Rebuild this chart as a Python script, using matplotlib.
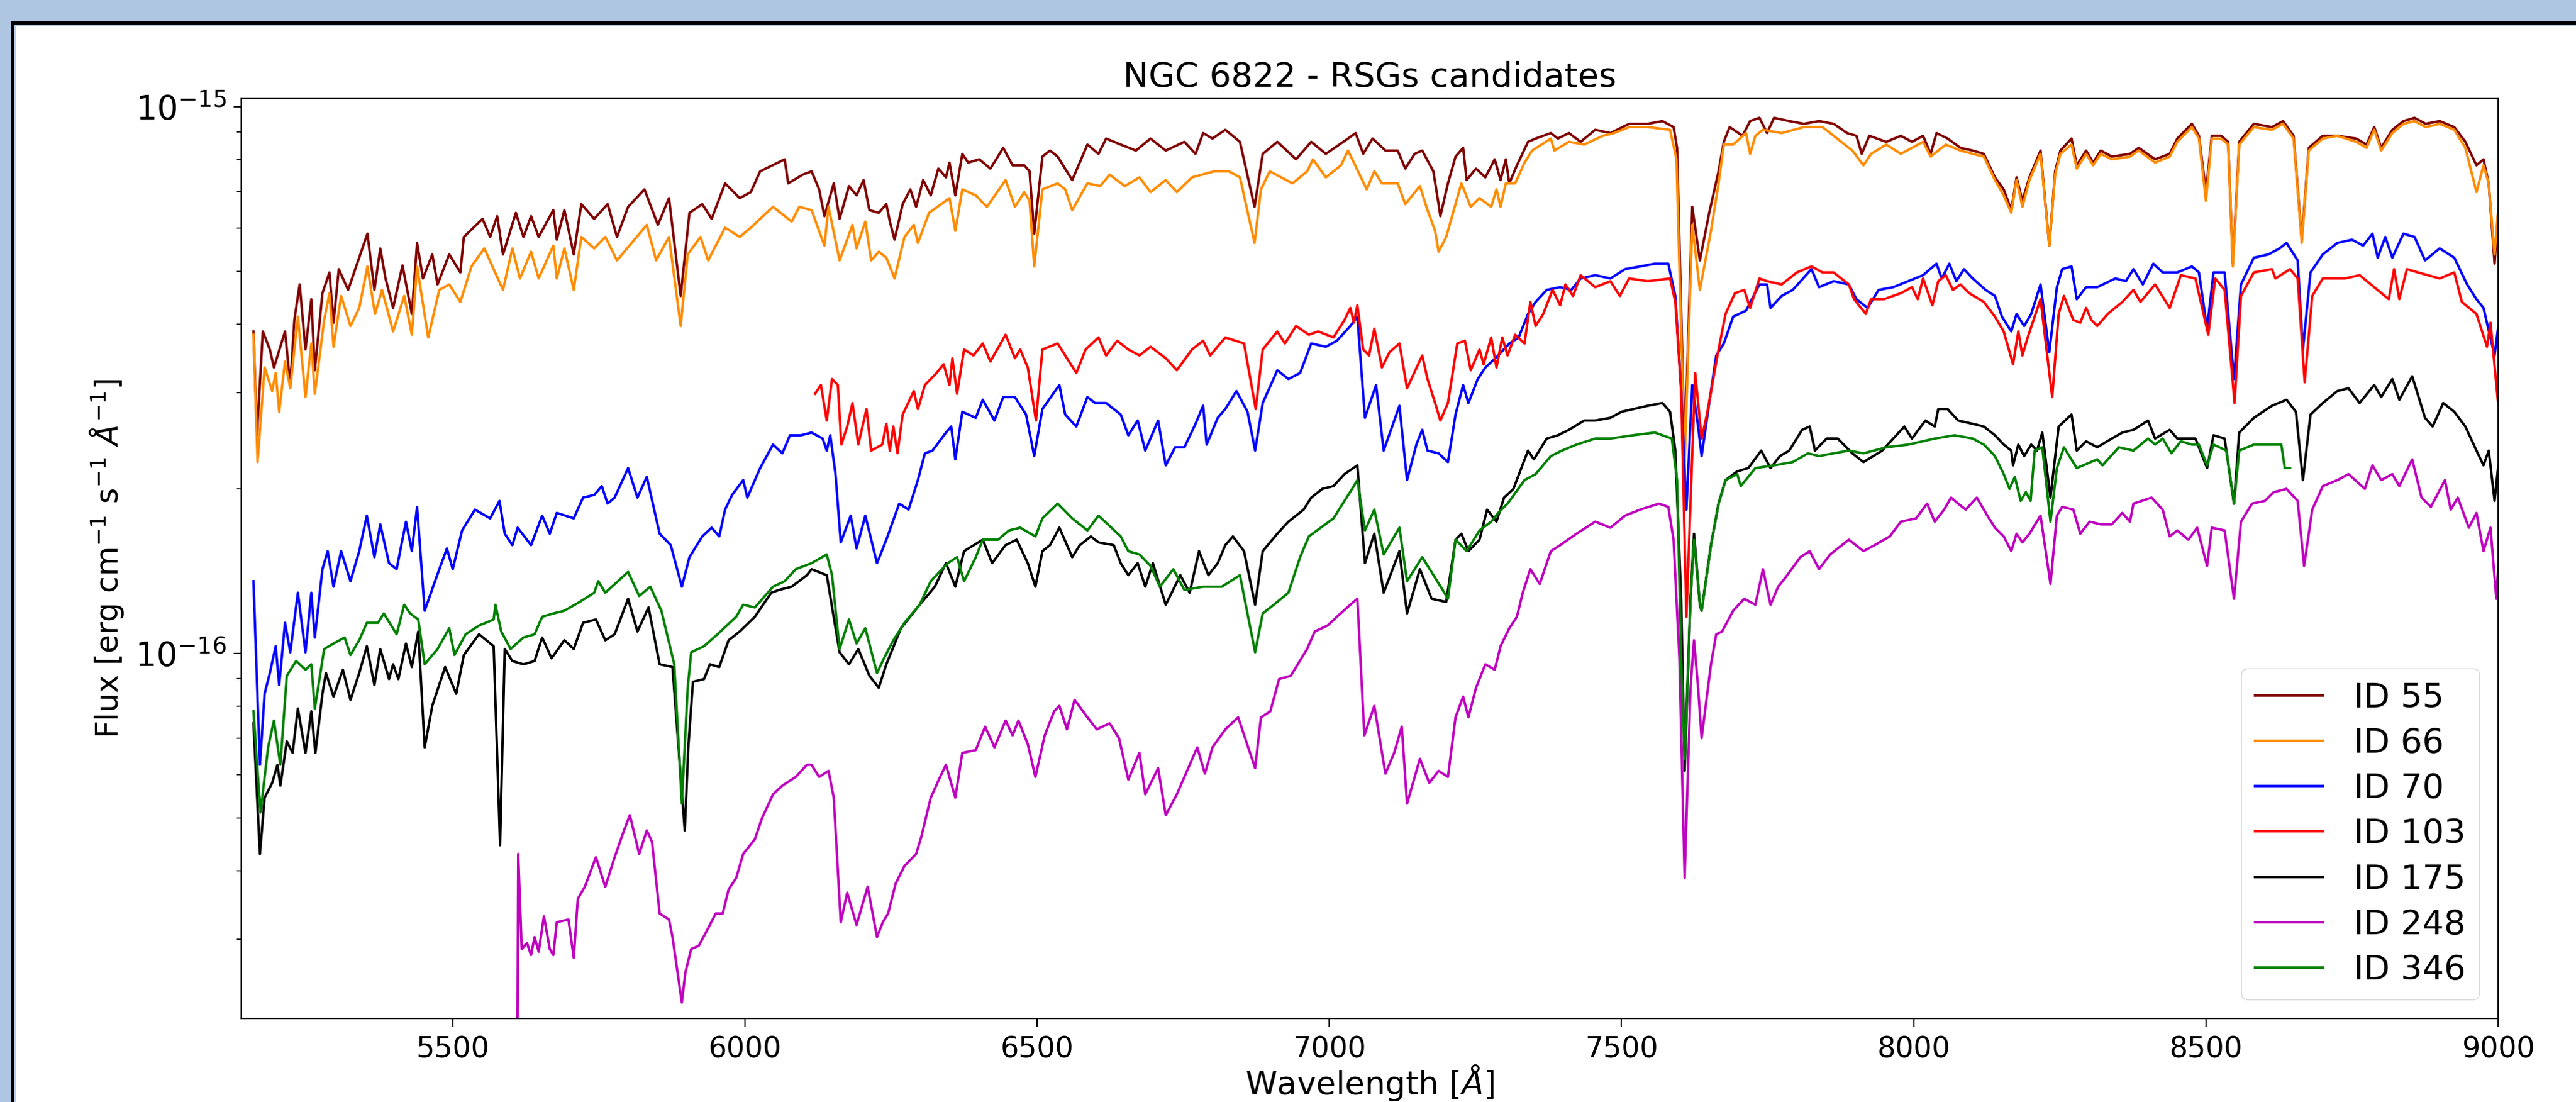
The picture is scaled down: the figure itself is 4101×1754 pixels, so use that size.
import numpy as np
import matplotlib.pyplot as plt
from matplotlib.patches import Rectangle
from matplotlib.ticker import NullFormatter, FixedLocator, LogLocator

# spectra: (wavelength [A], log10 flux [erg cm-1 s-1 A-1])
id55 = [(5159,-15.411),(5165,-15.601),(5175,-15.411),(5187,-15.444),(5194,-15.477),(5213,-15.411),
        (5222,-15.509),(5229,-15.390),(5238,-15.325),(5248,-15.444),(5258,-15.352),(5264,-15.482),
        (5277,-15.341),(5289,-15.303),(5296,-15.395),(5305,-15.297),(5321,-15.335),(5354,-15.232),
        (5366,-15.335),(5376,-15.259),(5385,-15.314),(5398,-15.368),(5414,-15.290),(5430,-15.379),
        (5439,-15.249),(5449,-15.314),(5465,-15.270),(5474,-15.325),(5494,-15.270),(5513,-15.303),
        (5519,-15.238),(5551,-15.205),(5564,-15.238),(5576,-15.200),(5586,-15.270),(5608,-15.194),
        (5621,-15.238),(5634,-15.200),(5647,-15.238),(5672,-15.189),(5678,-15.243),(5691,-15.189),
        (5707,-15.270),(5720,-15.178),(5742,-15.205),(5765,-15.178),(5781,-15.238),(5800,-15.183),
        (5828,-15.151),(5851,-15.216),(5870,-15.167),(5890,-15.346),(5905,-15.194),(5927,-15.178),
        (5943,-15.205),(5966,-15.140),(5991,-15.167),(6010,-15.156),(6026,-15.118),(6068,-15.096),
        (6074,-15.140),(6099,-15.124),(6114,-15.118),(6127,-15.151),(6136,-15.200),(6152,-15.140),
        (6162,-15.205),(6178,-15.145),(6191,-15.162),(6203,-15.134),(6213,-15.189),(6229,-15.194),
        (6242,-15.178),(6248,-15.210),(6256,-15.243),(6270,-15.178),(6283,-15.151),(6293,-15.183),
        (6305,-15.134),(6318,-15.162),(6331,-15.113),(6344,-15.129),(6350,-15.102),(6360,-15.162),
        (6372,-15.086),(6382,-15.102),(6401,-15.096),(6420,-15.113),(6442,-15.075),(6458,-15.107),
        (6478,-15.107),(6487,-15.118),(6495,-15.232),(6509,-15.091),(6522,-15.080),(6535,-15.091),
        (6560,-15.134),(6586,-15.069),(6605,-15.086),(6618,-15.058),(6643,-15.069),(6669,-15.080),
        (6694,-15.058),(6720,-15.080),(6752,-15.064),(6771,-15.086),(6784,-15.048),(6800,-15.058),
        (6822,-15.042),(6847,-15.064),(6872,-15.183),(6886,-15.086),(6911,-15.064),(6943,-15.096),
        (6969,-15.064),(6994,-15.086),(7032,-15.058),(7045,-15.048),(7058,-15.086),(7074,-15.058),
        (7096,-15.080),(7117,-15.080),(7130,-15.113),(7146,-15.086),(7159,-15.080),(7178,-15.118),
        (7187,-15.178),(7190,-15.200),(7203,-15.140),(7216,-15.091),(7229,-15.075),(7235,-15.134),
        (7251,-15.113),(7267,-15.129),(7283,-15.096),(7293,-15.134),(7302,-15.096),(7308,-15.140),
        (7321,-15.107),(7340,-15.064),(7353,-15.058),(7379,-15.048),(7391,-15.058),(7410,-15.048),
        (7430,-15.064),(7455,-15.042),(7481,-15.048),(7513,-15.031),(7545,-15.031),(7570,-15.026),
        (7589,-15.037),(7595,-15.075),(7608,-15.629),(7621,-15.183),(7634,-15.281),(7650,-15.194),
        (7666,-15.118),(7675,-15.064),(7685,-15.037),(7707,-15.053),(7720,-15.026),(7736,-15.020),
        (7749,-15.048),(7761,-15.020),(7787,-15.026),(7812,-15.031),(7838,-15.026),(7863,-15.031),
        (7886,-15.048),(7902,-15.053),(7911,-15.086),(7924,-15.053),(7953,-15.064),(7978,-15.053),
        (7997,-15.064),(8016,-15.053),(8029,-15.086),(8039,-15.048),(8058,-15.058),(8080,-15.075),
        (8101,-15.080),(8120,-15.086),(8139,-15.129),(8154,-15.151),(8167,-15.189),(8176,-15.129),
        (8186,-15.172),(8198,-15.129),(8217,-15.080),(8232,-15.254),(8242,-15.118),(8251,-15.080),
        (8270,-15.058),(8279,-15.107),(8295,-15.080),(8307,-15.102),(8320,-15.080),(8339,-15.091),
        (8370,-15.086),(8385,-15.075),(8413,-15.096),(8438,-15.086),(8451,-15.058),(8476,-15.031),
        (8488,-15.053),(8500,-15.156),(8510,-15.053),(8526,-15.053),(8538,-15.064),(8546,-15.287),
        (8557,-15.064),(8582,-15.031),(8613,-15.037),(8632,-15.026),(8650,-15.053),(8664,-15.243),
        (8676,-15.075),(8700,-15.053),(8725,-15.053),(8757,-15.058),(8775,-15.069),(8788,-15.037),
        (8800,-15.075),(8819,-15.042),(8838,-15.026),(8857,-15.020),(8876,-15.031),(8900,-15.026),
        (8925,-15.037),(8944,-15.064),(8963,-15.107),(8975,-15.096),(8984,-15.140),(8994,-15.287),
        (9003,-15.151)]

id66 = [(5159,-15.417),(5166,-15.650),(5178,-15.477),(5191,-15.520),(5197,-15.487),(5203,-15.558),
        (5213,-15.466),(5222,-15.515),(5235,-15.384),(5248,-15.531),(5258,-15.433),(5264,-15.525),
        (5280,-15.390),(5289,-15.341),(5296,-15.439),(5309,-15.346),(5325,-15.401),(5340,-15.368),
        (5354,-15.292),(5367,-15.379),(5379,-15.335),(5398,-15.411),(5417,-15.346),(5430,-15.417),
        (5439,-15.292),(5458,-15.422),(5477,-15.335),(5494,-15.325),(5513,-15.357),(5532,-15.292),
        (5554,-15.259),(5586,-15.335),(5602,-15.259),(5615,-15.314),(5634,-15.265),(5647,-15.314),
        (5672,-15.254),(5678,-15.314),(5691,-15.259),(5707,-15.335),(5720,-15.238),(5742,-15.259),
        (5761,-15.238),(5781,-15.281),(5832,-15.216),(5848,-15.281),(5870,-15.238),(5890,-15.401),
        (5902,-15.270),(5924,-15.238),(5937,-15.281),(5966,-15.221),(5991,-15.238),(6010,-15.221),
        (6048,-15.183),(6080,-15.210),(6093,-15.183),(6114,-15.189),(6136,-15.254),(6143,-15.183),
        (6162,-15.281),(6184,-15.216),(6191,-15.259),(6206,-15.210),(6216,-15.281),(6229,-15.265),
        (6242,-15.276),(6256,-15.314),(6273,-15.238),(6289,-15.216),(6296,-15.249),(6315,-15.194),
        (6350,-15.167),(6360,-15.227),(6372,-15.151),(6395,-15.162),(6414,-15.183),(6446,-15.134),
        (6462,-15.183),(6478,-15.156),(6487,-15.172),(6495,-15.292),(6509,-15.151),(6535,-15.140),
        (6548,-15.151),(6560,-15.189),(6586,-15.140),(6608,-15.145),(6624,-15.124),(6650,-15.145),
        (6675,-15.129),(6694,-15.156),(6720,-15.134),(6739,-15.156),(6765,-15.129),(6803,-15.118),
        (6828,-15.118),(6847,-15.129),(6872,-15.249),(6883,-15.151),(6898,-15.118),(6937,-15.140),
        (6962,-15.118),(6972,-15.096),(6994,-15.129),(7020,-15.107),(7032,-15.080),(7064,-15.151),
        (7077,-15.118),(7090,-15.140),(7117,-15.140),(7130,-15.178),(7155,-15.145),(7168,-15.189),
        (7181,-15.227),(7187,-15.265),(7200,-15.238),(7226,-15.140),(7242,-15.183),(7257,-15.167),
        (7277,-15.183),(7286,-15.151),(7293,-15.183),(7302,-15.140),(7318,-15.140),(7334,-15.102),
        (7347,-15.080),(7379,-15.058),(7385,-15.080),(7410,-15.064),(7436,-15.069),(7468,-15.053),
        (7487,-15.048),(7513,-15.037),(7545,-15.037),(7583,-15.042),(7594,-15.096),(7608,-15.650),
        (7621,-15.216),(7634,-15.335),(7653,-15.227),(7666,-15.140),(7675,-15.069),(7691,-15.069),
        (7713,-15.048),(7720,-15.086),(7729,-15.053),(7742,-15.042),(7774,-15.048),(7812,-15.037),
        (7844,-15.037),(7863,-15.053),(7895,-15.080),(7914,-15.107),(7927,-15.086),(7953,-15.069),
        (7978,-15.086),(8016,-15.064),(8029,-15.091),(8055,-15.069),(8080,-15.080),(8101,-15.086),
        (8120,-15.091),(8139,-15.134),(8154,-15.162),(8167,-15.194),(8176,-15.134),(8186,-15.183),
        (8198,-15.134),(8217,-15.086),(8232,-15.254),(8242,-15.124),(8251,-15.086),(8270,-15.069),
        (8279,-15.113),(8295,-15.086),(8307,-15.107),(8320,-15.086),(8339,-15.096),(8370,-15.091),
        (8385,-15.080),(8413,-15.102),(8438,-15.091),(8451,-15.064),(8476,-15.037),(8488,-15.058),
        (8500,-15.172),(8510,-15.058),(8526,-15.058),(8538,-15.069),(8546,-15.292),(8557,-15.069),
        (8582,-15.037),(8613,-15.042),(8632,-15.031),(8650,-15.058),(8664,-15.249),(8676,-15.080),
        (8700,-15.058),(8725,-15.053),(8757,-15.064),(8775,-15.075),(8788,-15.042),(8800,-15.080),
        (8819,-15.048),(8838,-15.031),(8857,-15.026),(8876,-15.037),(8900,-15.031),(8925,-15.042),
        (8944,-15.075),(8963,-15.156),(8975,-15.107),(8984,-15.140),(8994,-15.270),(9003,-15.151)]

id70 = [(5159,-15.868),(5170,-16.204),(5178,-16.074),(5187,-16.036),(5197,-15.987),(5203,-16.058),
        (5213,-15.944),(5222,-15.998),(5235,-15.889),(5248,-15.998),(5258,-15.889),(5264,-15.971),
        (5277,-15.846),(5286,-15.813),(5296,-15.878),(5309,-15.813),(5325,-15.868),(5340,-15.813),
        (5353,-15.748),(5366,-15.824),(5376,-15.764),(5391,-15.835),(5404,-15.846),(5420,-15.759),
        (5430,-15.813),(5439,-15.732),(5452,-15.922),(5468,-15.873),(5490,-15.808),(5500,-15.846),
        (5516,-15.775),(5538,-15.737),(5564,-15.753),(5580,-15.721),(5589,-15.781),(5602,-15.802),
        (5611,-15.770),(5634,-15.802),(5653,-15.748),(5666,-15.781),(5678,-15.743),(5707,-15.753),
        (5723,-15.715),(5742,-15.710),(5755,-15.694),(5765,-15.726),(5777,-15.715),(5800,-15.661),
        (5816,-15.715),(5832,-15.677),(5854,-15.781),(5873,-15.802),(5892,-15.878),(5905,-15.824),
        (5927,-15.786),(5943,-15.770),(5956,-15.786),(5966,-15.737),(5978,-15.710),(5997,-15.683),
        (6004,-15.715),(6026,-15.661),(6048,-15.618),(6064,-15.634),(6077,-15.601),(6096,-15.601),
        (6114,-15.596),(6133,-15.607),(6140,-15.629),(6146,-15.601),(6155,-15.672),(6164,-15.797),
        (6181,-15.748),(6191,-15.808),(6206,-15.748),(6226,-15.835),(6242,-15.792),(6264,-15.726),
        (6280,-15.737),(6296,-15.683),(6308,-15.634),(6321,-15.629),(6344,-15.596),(6353,-15.585),
        (6360,-15.645),(6372,-15.558),(6395,-15.569),(6407,-15.536),(6427,-15.574),(6442,-15.531),
        (6462,-15.531),(6481,-15.563),(6495,-15.639),(6509,-15.553),(6538,-15.509),(6548,-15.563),
        (6567,-15.585),(6586,-15.531),(6599,-15.542),(6618,-15.542),(6643,-15.563),(6656,-15.601),
        (6672,-15.574),(6685,-15.629),(6707,-15.574),(6720,-15.656),(6736,-15.623),(6752,-15.623),
        (6771,-15.580),(6784,-15.547),(6790,-15.618),(6809,-15.569),(6822,-15.553),(6841,-15.520),
        (6860,-15.558),(6873,-15.629),(6886,-15.542),(6911,-15.482),(6930,-15.498),(6950,-15.487),
        (6969,-15.433),(6994,-15.439),(7013,-15.428),(7036,-15.401),(7048,-15.384),(7061,-15.569),
        (7080,-15.509),(7093,-15.629),(7120,-15.547),(7133,-15.683),(7149,-15.618),(7159,-15.591),
        (7168,-15.629),(7187,-15.634),(7203,-15.650),(7216,-15.563),(7229,-15.509),(7238,-15.542),
        (7254,-15.498),(7267,-15.477),(7289,-15.455),(7308,-15.433),(7324,-15.422),(7340,-15.379),
        (7353,-15.357),(7372,-15.335),(7395,-15.330),(7414,-15.335),(7430,-15.314),(7455,-15.308),
        (7481,-15.314),(7506,-15.297),(7532,-15.292),(7557,-15.287),(7580,-15.287),(7592,-15.346),
        (7602,-15.520),(7611,-15.737),(7621,-15.509),(7631,-15.585),(7637,-15.639),(7650,-15.542),
        (7662,-15.455),(7675,-15.433),(7691,-15.384),(7713,-15.373),(7736,-15.325),(7749,-15.325),
        (7755,-15.368),(7774,-15.346),(7793,-15.335),(7825,-15.297),(7838,-15.330),(7863,-15.319),
        (7889,-15.325),(7902,-15.352),(7921,-15.368),(7940,-15.335),(7965,-15.330),(8016,-15.308),
        (8039,-15.287),(8048,-15.314),(8061,-15.287),(8073,-15.319),(8086,-15.297),(8101,-15.314),
        (8123,-15.335),(8139,-15.346),(8151,-15.384),(8167,-15.411),(8176,-15.379),(8189,-15.401),
        (8201,-15.379),(8217,-15.325),(8232,-15.449),(8245,-15.330),(8254,-15.297),(8270,-15.292),
        (8279,-15.352),(8295,-15.330),(8314,-15.330),(8345,-15.314),(8363,-15.319),(8376,-15.297),
        (8392,-15.325),(8410,-15.287),(8426,-15.303),(8451,-15.303),(8476,-15.292),(8488,-15.303),
        (8502,-15.406),(8513,-15.303),(8532,-15.303),(8548,-15.498),(8560,-15.325),(8582,-15.276),
        (8607,-15.270),(8626,-15.259),(8638,-15.249),(8657,-15.281),(8666,-15.444),(8679,-15.303),
        (8700,-15.270),(8725,-15.249),(8750,-15.243),(8769,-15.254),(8785,-15.232),(8794,-15.276),
        (8807,-15.238),(8819,-15.276),(8838,-15.232),(8857,-15.238),(8875,-15.281),(8900,-15.259),
        (8925,-15.276),(8947,-15.325),(8963,-15.352),(8975,-15.368),(8994,-15.455),(9003,-15.379)]

id103 = [(6120,-15.525),(6130,-15.509),(6140,-15.574),(6149,-15.498),(6159,-15.509),(6165,-15.618),
         (6175,-15.585),(6184,-15.542),(6194,-15.618),(6208,-15.553),(6216,-15.629),(6235,-15.618),
         (6242,-15.580),(6248,-15.629),(6254,-15.585),(6261,-15.634),(6270,-15.563),(6289,-15.520),
         (6296,-15.553),(6308,-15.509),(6328,-15.487),(6340,-15.471),(6350,-15.509),(6355,-15.460),
         (6363,-15.525),(6375,-15.444),(6391,-15.455),(6407,-15.433),(6420,-15.466),(6446,-15.417),
         (6462,-15.460),(6471,-15.444),(6484,-15.477),(6498,-15.574),(6509,-15.444),(6535,-15.433),
         (6567,-15.487),(6583,-15.444),(6605,-15.422),(6618,-15.455),(6637,-15.428),(6656,-15.444),
         (6675,-15.455),(6694,-15.439),(6720,-15.460),(6739,-15.482),(6765,-15.444),(6784,-15.428),
         (6796,-15.455),(6822,-15.422),(6854,-15.433),(6874,-15.553),(6886,-15.444),(6911,-15.411),
         (6924,-15.433),(6943,-15.401),(6965,-15.417),(6981,-15.411),(7007,-15.422),(7026,-15.390),
         (7036,-15.368),(7042,-15.395),(7048,-15.363),(7058,-15.444),(7068,-15.455),(7077,-15.406),
         (7090,-15.477),(7103,-15.449),(7120,-15.433),(7133,-15.515),(7159,-15.455),(7168,-15.498),
         (7181,-15.542),(7190,-15.574),(7203,-15.542),(7219,-15.433),(7232,-15.428),(7242,-15.482),
         (7257,-15.444),(7264,-15.471),(7277,-15.422),(7286,-15.477),(7296,-15.422),(7305,-15.455),
         (7318,-15.417),(7334,-15.433),(7344,-15.357),(7353,-15.401),(7366,-15.379),(7382,-15.335),
         (7395,-15.363),(7404,-15.325),(7417,-15.346),(7430,-15.308),(7455,-15.330),(7481,-15.319),
         (7497,-15.346),(7513,-15.314),(7545,-15.319),(7583,-15.314),(7592,-15.357),(7602,-15.520),
         (7611,-15.933),(7626,-15.487),(7637,-15.607),(7646,-15.563),(7666,-15.444),(7678,-15.379),
         (7694,-15.341),(7710,-15.335),(7720,-15.368),(7736,-15.314),(7749,-15.319),(7774,-15.325),
         (7800,-15.303),(7825,-15.292),(7844,-15.303),(7863,-15.303),(7889,-15.325),(7898,-15.352),
         (7918,-15.379),(7927,-15.352),(7949,-15.352),(7978,-15.341),(7997,-15.330),(8007,-15.352),
         (8016,-15.314),(8032,-15.363),(8042,-15.319),(8055,-15.308),(8067,-15.335),(8080,-15.325),
         (8095,-15.341),(8120,-15.357),(8139,-15.384),(8154,-15.411),(8170,-15.471),(8179,-15.411),
         (8186,-15.455),(8195,-15.422),(8217,-15.352),(8237,-15.531),(8248,-15.379),(8257,-15.346),
         (8273,-15.390),(8285,-15.395),(8295,-15.368),(8304,-15.390),(8314,-15.401),(8332,-15.379),
         (8357,-15.357),(8376,-15.335),(8388,-15.357),(8413,-15.325),(8438,-15.368),(8457,-15.308),
         (8482,-15.314),(8504,-15.417),(8516,-15.314),(8532,-15.335),(8549,-15.542),(8560,-15.346),
         (8582,-15.303),(8613,-15.297),(8619,-15.314),(8644,-15.297),(8657,-15.314),(8669,-15.504),
         (8682,-15.346),(8700,-15.314),(8738,-15.314),(8763,-15.308),(8813,-15.352),(8822,-15.297),
         (8831,-15.352),(8844,-15.297),(8863,-15.303),(8900,-15.314),(8925,-15.303),(8938,-15.357),
         (8963,-15.379),(8981,-15.439),(8987,-15.395),(9000,-15.542)]

id175 = [(5159,-16.128),(5170,-16.367),(5178,-16.264),(5191,-16.237),(5200,-16.204),(5205,-16.242),
         (5216,-16.161),(5226,-16.182),(5235,-16.101),(5248,-16.182),(5258,-16.106),(5265,-16.182),
         (5277,-16.074),(5283,-16.036),(5296,-16.079),(5312,-16.030),(5325,-16.085),(5340,-16.036),
         (5353,-15.987),(5366,-16.058),(5376,-15.992),(5391,-16.047),(5398,-16.020),(5407,-16.047),
         (5420,-15.982),(5430,-16.025),(5441,-15.960),(5452,-16.172),(5465,-16.096),(5487,-16.025),
         (5506,-16.074),(5519,-16.003),(5545,-15.965),(5570,-15.987),(5581,-16.351),(5589,-15.992),
         (5602,-16.014),(5621,-16.020),(5640,-16.014),(5653,-15.971),(5669,-16.009),(5691,-15.976),
         (5707,-15.992),(5723,-15.944),(5745,-15.938),(5761,-15.976),(5777,-15.965),(5800,-15.900),
         (5816,-15.960),(5835,-15.916),(5854,-16.020),(5876,-16.025),(5897,-16.324),(5903,-16.172),
         (5911,-16.052),(5930,-16.047),(5940,-16.020),(5956,-16.025),(5972,-15.976),(5991,-15.960),
         (6017,-15.933),(6045,-15.889),(6058,-15.884),(6080,-15.878),(6106,-15.857),(6114,-15.846),
         (6140,-15.857),(6162,-15.998),(6178,-16.020),(6194,-15.992),(6213,-16.041),(6229,-16.063),
         (6242,-16.020),(6267,-15.954),(6299,-15.911),(6325,-15.878),(6344,-15.835),(6360,-15.878),
         (6375,-15.813),(6407,-15.792),(6423,-15.835),(6446,-15.802),(6465,-15.792),(6484,-15.835),
         (6497,-15.878),(6509,-15.813),(6522,-15.802),(6538,-15.770),(6560,-15.824),(6573,-15.802),
         (6592,-15.786),(6605,-15.797),(6631,-15.802),(6643,-15.835),(6656,-15.857),(6672,-15.835),
         (6685,-15.878),(6698,-15.835),(6720,-15.911),(6745,-15.857),(6761,-15.889),(6777,-15.813),
         (6793,-15.857),(6809,-15.835),(6822,-15.802),(6835,-15.786),(6854,-15.813),(6873,-15.911),
         (6886,-15.813),(6911,-15.781),(6930,-15.759),(6956,-15.737),(6969,-15.715),(6988,-15.699),
         (7007,-15.694),(7026,-15.672),(7048,-15.656),(7061,-15.835),(7077,-15.781),(7093,-15.889),
         (7120,-15.813),(7133,-15.927),(7155,-15.846),(7175,-15.900),(7200,-15.906),(7216,-15.792),
         (7226,-15.781),(7238,-15.813),(7257,-15.792),(7270,-15.737),(7286,-15.759),(7299,-15.715),
         (7315,-15.699),(7340,-15.629),(7350,-15.645),(7372,-15.607),(7391,-15.601),(7410,-15.591),
         (7436,-15.574),(7455,-15.574),(7481,-15.569),(7500,-15.558),(7545,-15.547),(7570,-15.542),
         (7583,-15.558),(7592,-15.629),(7602,-15.900),(7608,-16.215),(7618,-15.900),(7624,-15.781),
         (7634,-15.911),(7637,-15.922),(7653,-15.802),(7666,-15.726),(7678,-15.683),(7698,-15.667),
         (7717,-15.661),(7739,-15.629),(7755,-15.661),(7771,-15.639),(7787,-15.629),(7809,-15.591),
         (7822,-15.585),(7831,-15.629),(7851,-15.607),(7870,-15.607),(7895,-15.634),(7914,-15.650),
         (7946,-15.629),(7965,-15.607),(7984,-15.585),(7997,-15.607),(8020,-15.574),(8036,-15.585),
         (8042,-15.553),(8058,-15.553),(8076,-15.574),(8101,-15.580),(8120,-15.585),(8139,-15.601),
         (8154,-15.618),(8167,-15.629),(8170,-15.656),(8179,-15.618),(8189,-15.639),(8201,-15.618),
         (8211,-15.629),(8220,-15.596),(8234,-15.715),(8248,-15.585),(8270,-15.563),(8279,-15.629),
         (8295,-15.612),(8314,-15.623),(8339,-15.607),(8357,-15.596),(8376,-15.591),(8401,-15.574),
         (8413,-15.607),(8438,-15.591),(8451,-15.607),(8482,-15.607),(8502,-15.661),(8513,-15.601),
         (8532,-15.607),(8548,-15.726),(8557,-15.596),(8582,-15.569),(8613,-15.547),(8638,-15.536),
         (8654,-15.558),(8666,-15.683),(8679,-15.563),(8700,-15.542),(8725,-15.520),(8744,-15.515),
         (8763,-15.542),(8788,-15.509),(8800,-15.531),(8819,-15.498),(8831,-15.536),(8853,-15.493),
         (8875,-15.569),(8888,-15.585),(8906,-15.542),(8925,-15.558),(8944,-15.585),(8963,-15.629),
         (8975,-15.656),(8984,-15.629),(8994,-15.721),(9003,-15.629)]

id248 = [(5610,-16.900),(5612,-16.367),(5618,-16.541),(5627,-16.530),(5634,-16.552),(5640,-16.519),
         (5647,-16.546),(5656,-16.481),(5666,-16.541),(5672,-16.552),(5678,-16.492),(5698,-16.487),
         (5707,-16.557),(5714,-16.449),(5726,-16.427),(5745,-16.373),(5761,-16.427),(5777,-16.373),
         (5793,-16.324),(5803,-16.296),(5819,-16.367),(5832,-16.324),(5841,-16.345),(5854,-16.476),
         (5870,-16.487),(5876,-16.519),(5892,-16.639),(5898,-16.584),(5908,-16.541),(5921,-16.535),
         (5937,-16.503),(5950,-16.476),(5962,-16.476),(5972,-16.432),(5985,-16.411),(5997,-16.367),
         (6017,-16.340),(6029,-16.302),(6048,-16.258),(6064,-16.242),(6087,-16.226),(6106,-16.204),
         (6114,-16.204),(6127,-16.226),(6143,-16.215),(6152,-16.264),(6164,-16.492),(6175,-16.438),
         (6191,-16.497),(6210,-16.427),(6226,-16.519),(6236,-16.492),(6245,-16.476),(6258,-16.421),
         (6273,-16.389),(6293,-16.367),(6302,-16.335),(6318,-16.264),(6334,-16.226),(6344,-16.204),
         (6360,-16.264),(6372,-16.182),(6395,-16.177),(6411,-16.134),(6427,-16.172),(6446,-16.123),
         (6458,-16.150),(6468,-16.123),(6484,-16.166),(6497,-16.226),(6513,-16.150),(6529,-16.106),
         (6538,-16.096),(6551,-16.139),(6564,-16.085),(6586,-16.117),(6602,-16.139),(6624,-16.128),
         (6640,-16.155),(6656,-16.231),(6675,-16.182),(6685,-16.258),(6707,-16.210),(6720,-16.296),
         (6739,-16.258),(6752,-16.226),(6774,-16.172),(6787,-16.220),(6800,-16.172),(6822,-16.139),
         (6844,-16.117),(6873,-16.210),(6883,-16.117),(6899,-16.106),(6914,-16.047),(6934,-16.041),
         (6962,-15.992),(6975,-15.960),(6997,-15.949),(7013,-15.933),(7036,-15.911),(7048,-15.900),
         (7060,-16.150),(7077,-16.096),(7096,-16.220),(7111,-16.182),(7124,-16.134),(7133,-16.275),
         (7155,-16.193),(7171,-16.237),(7187,-16.215),(7203,-16.226),(7216,-16.117),(7229,-16.079),
         (7238,-16.117),(7251,-16.063),(7267,-16.020),(7283,-16.030),(7293,-15.987),(7308,-15.954),
         (7321,-15.933),(7331,-15.889),(7344,-15.846),(7360,-15.873),(7379,-15.813),(7395,-15.802),
         (7423,-15.781),(7455,-15.759),(7481,-15.770),(7506,-15.748),(7532,-15.737),(7564,-15.726),
         (7580,-15.732),(7589,-15.792),(7599,-16.009),(7608,-16.411),(7618,-16.063),(7624,-15.976),
         (7631,-16.063),(7637,-16.155),(7653,-16.020),(7662,-15.965),(7672,-15.960),(7691,-15.922),
         (7710,-15.900),(7729,-15.911),(7742,-15.846),(7755,-15.911),(7768,-15.878),(7780,-15.862),
         (7806,-15.824),(7822,-15.813),(7838,-15.846),(7857,-15.819),(7889,-15.792),(7914,-15.813),
         (7933,-15.802),(7959,-15.786),(7978,-15.759),(8004,-15.753),(8023,-15.726),(8036,-15.759),
         (8052,-15.737),(8064,-15.715),(8076,-15.726),(8089,-15.737),(8108,-15.715),(8126,-15.748),
         (8139,-15.770),(8154,-15.786),(8167,-15.813),(8176,-15.781),(8186,-15.797),(8198,-15.781),
         (8217,-15.748),(8234,-15.873),(8245,-15.748),(8254,-15.732),(8273,-15.737),(8285,-15.781),
         (8301,-15.759),(8320,-15.764),(8339,-15.764),(8357,-15.743),(8370,-15.759),(8376,-15.726),
         (8407,-15.715),(8426,-15.737),(8438,-15.786),(8451,-15.775),(8470,-15.792),(8485,-15.770),
         (8502,-15.840),(8510,-15.770),(8532,-15.775),(8548,-15.900),(8560,-15.759),(8579,-15.726),
         (8601,-15.721),(8616,-15.705),(8638,-15.699),(8657,-15.721),(8668,-15.840),(8682,-15.737),
         (8700,-15.694),(8725,-15.683),(8744,-15.672),(8772,-15.699),(8785,-15.656),(8800,-15.683),
         (8819,-15.672),(8831,-15.694),(8853,-15.645),(8869,-15.715),(8885,-15.732),(8909,-15.683),
         (8919,-15.737),(8931,-15.715),(8950,-15.770),(8963,-15.743),(8975,-15.813),(8987,-15.770),
         (8997,-15.900),(9003,-15.792)]

id346 = [(5159,-16.106),(5171,-16.291),(5184,-16.172),(5194,-16.123),(5205,-16.204),(5216,-16.041),
         (5232,-16.014),(5248,-16.030),(5258,-16.020),(5264,-16.101),(5280,-15.992),(5296,-15.982),
         (5315,-15.971),(5325,-16.003),(5340,-15.976),(5353,-15.944),(5372,-15.944),(5382,-15.927),
         (5404,-15.965),(5417,-15.911),(5427,-15.927),(5441,-15.938),(5452,-16.020),(5474,-15.992),
         (5494,-15.954),(5503,-16.003),(5522,-15.965),(5545,-15.949),(5570,-15.938),(5573,-15.911),
         (5583,-15.960),(5599,-15.992),(5621,-15.971),(5640,-15.965),(5653,-15.933),(5672,-15.927),
         (5691,-15.922),(5717,-15.906),(5742,-15.889),(5749,-15.868),(5761,-15.889),(5800,-15.851),
         (5819,-15.895),(5838,-15.878),(5857,-15.922),(5879,-16.020),(5892,-16.275),(5902,-16.063),
         (5908,-15.998),(5930,-15.987),(5953,-15.965),(5985,-15.933),(5997,-15.911),(6017,-15.916),
         (6048,-15.878),(6068,-15.868),(6087,-15.846),(6114,-15.835),(6140,-15.819),(6149,-15.857),
         (6162,-15.992),(6178,-15.938),(6191,-15.982),(6206,-15.954),(6226,-16.036),(6238,-16.009),
         (6254,-15.976),(6273,-15.944),(6299,-15.911),(6318,-15.868),(6347,-15.835),(6363,-15.824),
         (6375,-15.868),(6395,-15.824),(6407,-15.792),(6433,-15.792),(6452,-15.775),(6471,-15.770),
         (6497,-15.786),(6509,-15.753),(6535,-15.726),(6560,-15.753),(6586,-15.775),(6605,-15.748),
         (6643,-15.786),(6656,-15.813),(6675,-15.819),(6694,-15.840),(6710,-15.878),(6733,-15.846),
         (6752,-15.884),(6784,-15.878),(6816,-15.878),(6847,-15.857),(6873,-15.998),(6886,-15.927),
         (6905,-15.911),(6930,-15.889),(6950,-15.824),(6965,-15.786),(7007,-15.753),(7026,-15.721),
         (7039,-15.699),(7048,-15.683),(7061,-15.775),(7077,-15.737),(7093,-15.819),(7120,-15.770),
         (7133,-15.868),(7159,-15.824),(7194,-15.884),(7203,-15.900),(7216,-15.792),(7235,-15.813),
         (7257,-15.775),(7277,-15.759),(7289,-15.743),(7305,-15.726),(7334,-15.683),(7353,-15.672),
         (7379,-15.639),(7398,-15.629),(7423,-15.618),(7455,-15.607),(7481,-15.607),(7519,-15.601),
         (7557,-15.596),(7586,-15.607),(7595,-15.683),(7602,-16.009),(7608,-16.193),(7618,-15.900),
         (7624,-15.792),(7634,-15.911),(7637,-15.922),(7653,-15.802),(7666,-15.726),(7678,-15.683),
         (7698,-15.672),(7704,-15.694),(7729,-15.661),(7761,-15.656),(7793,-15.650),(7819,-15.634),
         (7838,-15.639),(7863,-15.634),(7889,-15.629),(7914,-15.634),(7953,-15.623),(7991,-15.618),
         (8036,-15.607),(8070,-15.601),(8101,-15.607),(8120,-15.618),(8139,-15.639),(8154,-15.672),
         (8164,-15.699),(8173,-15.677),(8183,-15.721),(8192,-15.705),(8200,-15.721),(8207,-15.629),
         (8220,-15.623),(8234,-15.759),(8245,-15.661),(8257,-15.623),(8279,-15.661),(8314,-15.645),
         (8323,-15.656),(8351,-15.623),(8376,-15.629),(8401,-15.607),(8413,-15.618),(8426,-15.607),
         (8441,-15.634),(8457,-15.612),(8476,-15.618),(8488,-15.618),(8502,-15.656),(8513,-15.618),
         (8535,-15.629),(8548,-15.726),(8557,-15.629),(8582,-15.618),(8607,-15.618),(8629,-15.618),
         (8635,-15.661),(8644,-15.661)]

labels = ['ID 55', 'ID 66', 'ID 70', 'ID 103', 'ID 175', 'ID 248', 'ID 346']
spectra = [id55, id66, id70, id103, id175, id248, id346]
colors = ['maroon', 'darkorange', 'b', 'r', 'k', 'm', 'g']
ymajor = [1e-16, 1e-15]

W, H = 4101, 1754
fig = plt.figure(figsize=(W / 100, H / 100), dpi=100)
fig.patch.set_facecolor('#aec6e1')

# screenshot frame around the plot
fig.add_artist(Rectangle((18 / W, -0.1), 1.2, 1.1 - 34 / H, transform=fig.transFigure,
                         facecolor='black', edgecolor='none', zorder=-3))
fig.add_artist(Rectangle((23 / W, -0.1), 1.2, 1.1 - 39 / H, transform=fig.transFigure,
                         facecolor='#b9cfe6', edgecolor='none', zorder=-2))
fig.add_artist(Rectangle((26 / W, -0.1), 1.2, 1.1 - 42 / H, transform=fig.transFigure,
                         facecolor='white', edgecolor='none', zorder=-1))

ax = fig.add_axes([384 / W, 1 - 1621 / H, (3977 - 384) / W, (1621 - 157) / H])

for spec, lab, c in zip(spectra, labels, colors):
    wl, lf = zip(*spec)
    ax.plot(wl, 10 ** np.array(lf), color=c, lw=2.8, label=lab)

ax.set_yscale('log')
ax.set_xlim(5138, 9000)
ax.set_ylim(10 ** -16.668, 10 ** -14.985)
ax.yaxis.set_major_locator(FixedLocator(ymajor))
ax.yaxis.set_minor_locator(LogLocator(subs=np.arange(2, 10)))
ax.yaxis.set_minor_formatter(NullFormatter())

ax.set_title('NGC 6822 - RSGs candidates', fontsize=39, pad=14)
ax.set_xlabel(r'Wavelength [$\AA$]', fontsize=37, labelpad=-1)
ax.set_ylabel(r'Flux [erg cm$^{-1}$ s$^{-1}$ $\AA^{-1}$]', fontsize=35, labelpad=11)

ax.tick_params(which='major', length=9, width=1.5)
ax.tick_params(which='minor', length=5, width=1.2)
ax.tick_params(axis='x', which='major', labelsize=33, pad=11)
ax.tick_params(axis='y', which='major', labelsize=38, pad=8)
for sp in ax.spines.values():
    sp.set_linewidth(1.6)

ax.legend(loc='lower right', fontsize=39, labelspacing=0.37, handlelength=2.0,
          handletextpad=0.9, borderaxespad=0.55)

fig.savefig('out.png', dpi=100, facecolor=fig.get_facecolor())
